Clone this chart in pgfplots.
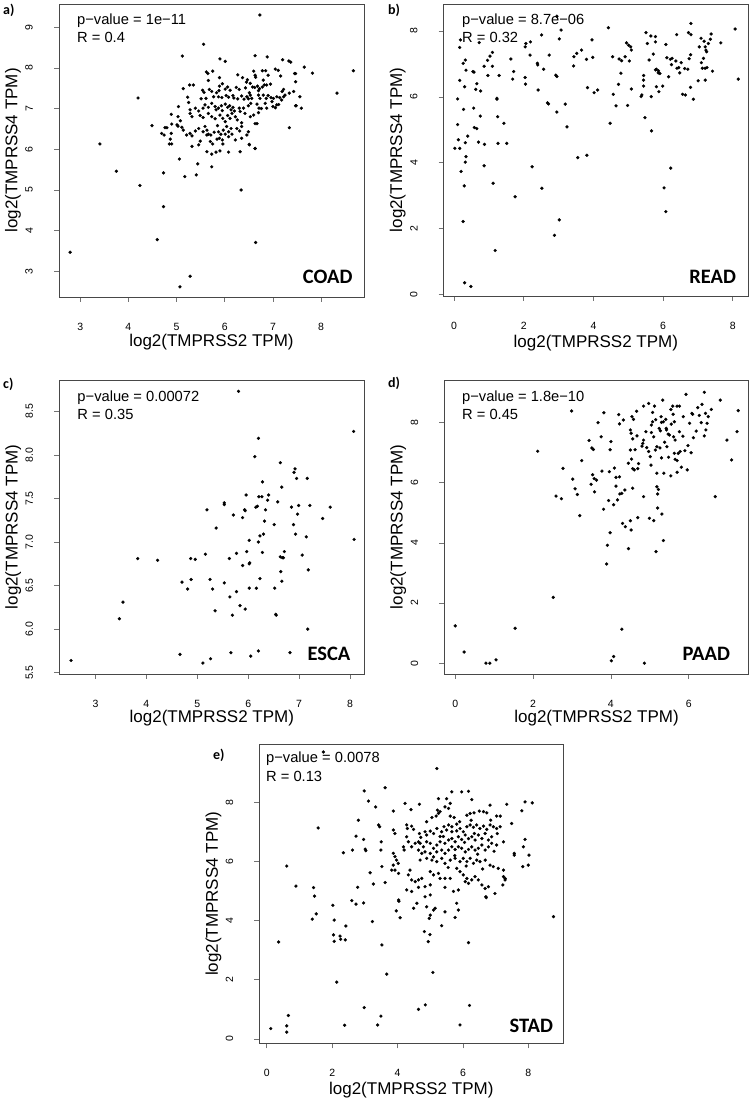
\documentclass[border=0pt]{standalone}
\usepackage{pgfplots}
\pgfplotsset{compat=1.18}
\usepackage{fontspec}
\setmainfont{Liberation Sans}
\newfontfamily\calibri{Carlito}
\pgfplotsset{
  rpanel/.style={
    scale only axis,
    axis line style={draw=black!72, line width=0.8pt},
    tick style={draw=black!55, line width=0.7pt},
    tick align=outside,
    major tick length=5pt,
    xtick pos=left, ytick pos=left,
    /pgf/number format/assume math mode=true,
    xticklabel style={font=\fontsize{10.5}{12}\selectfont, anchor=north, inner sep=0pt, yshift=-21pt},
    yticklabel style={font=\fontsize{10.5}{12}\selectfont, rotate=90, anchor=south, inner sep=0pt},
    yticklabel shift=21pt,
    xlabel={log2(TMPRSS2 TPM)},
    ylabel={log2(TMPRSS4 TPM)},
    label style={font=\fontsize{17}{20}\selectfont},
    ylabel style={at={(axis description cs:-0.151,0.5)}, anchor=center},
  },
  pts/.style={only marks, mark=*, mark size=1.5pt, draw=black, fill=black, mark options={fill=black, draw=black, line width=0.3pt}},
}
\tikzset{
  ann/.style={anchor=west, inner sep=0pt, font=\fontsize{14.7}{16}\selectfont},
  tis/.style={anchor=east, inner sep=0pt, font=\calibri\bfseries\fontsize{20.5}{22}\selectfont},
  plab/.style={anchor=west, inner sep=0pt, font=\calibri\bfseries\fontsize{14}{16}\selectfont},
}
\begin{document}
\begin{tikzpicture}
\useasboundingbox (0,0) rectangle (752pt,1102pt);
% ---------------- a) COAD
\begin{axis}[rpanel, at={(59pt,805pt)}, anchor=south west, width=305pt, height=293pt,
  xmin=2.56, xmax=8.89, ymin=2.37, ymax=9.57, xtick={3,...,8}, ytick={3,...,9},
  xlabel style={at={(axis description cs:0.5,0)}, anchor=center, yshift=-45pt}]
\addplot[pts] coordinates {
(6.73,9.30) (5.17,5.33) (5.41,5.37) (4.20,7.26) (3.41,6.13) (3.75,5.46) (4.24,5.11) (4.73,5.42) (4.73,4.59) (4.60,3.78) (6.34,5.00) (6.64,3.71) (2.79,3.47) (5.28,2.88) (5.07,2.62) (8.67,7.93)
(5.56,8.58) (5.12,8.29) (5.90,8.22) (6.01,8.16) (6.63,8.30) (6.88,8.27) (7.20,8.20) (7.33,8.17) (7.37,8.14) (7.65,8.02) (7.82,7.87) (8.33,7.38)
(5.65,7.86) (5.75,7.92) (5.89,7.76) (5.66,7.69) (6.27,7.83) (6.37,7.76) (6.47,7.71) (6.60,7.92) (6.63,7.82) (6.64,7.77) (6.78,7.93) (6.85,7.93) (6.90,7.82) (7.05,7.97) (7.11,7.94) (7.16,7.80) (7.47,7.86) (7.47,7.66)
(6.80,7.70) (6.87,7.58) (6.82,7.58) (6.78,7.53) (6.53,7.62) (6.58,7.53) (6.62,7.52) (6.68,7.55) (6.72,7.49) (6.70,7.44)
(5.14,7.49) (5.27,7.58) (5.35,7.58) (5.54,7.45) (5.57,7.40) (5.68,7.47) (5.73,7.42) (5.83,7.39) (5.88,7.44) (5.89,7.55) (5.95,7.61) (6.01,7.48) (6.06,7.53) (6.11,7.45) (6.24,7.52) (6.30,7.47) (6.43,7.51) (6.51,7.39)
(5.23,7.28) (5.51,7.24) (5.61,7.25) (5.77,7.29) (5.87,7.29) (5.94,7.27) (6.03,7.32) (6.08,7.28) (6.17,7.32) (6.19,7.26) (6.27,7.24) (6.35,7.31) (6.40,7.23)
(6.46,7.29) (6.49,7.24) (6.53,7.33) (6.56,7.25) (6.54,7.13) (6.49,7.07) (6.70,7.33) (6.73,7.25) (6.80,7.33) (6.86,7.25) (6.90,7.32) (6.96,7.27)
(7.01,7.25) (7.08,7.29) (7.14,7.27) (7.18,7.21) (7.22,7.29) (7.19,7.42) (7.22,7.47) (7.34,7.38) (7.43,7.42) (7.47,7.07) (7.56,7.29) (7.59,7.01)
(6.98,7.17) (7.05,7.02) (7.08,7.09) (7.00,7.05) (6.67,7.11) (6.71,7.01) (6.84,7.13) (6.76,7.00) (6.87,7.01)
(5.04,7.05) (5.28,6.97) (5.39,7.01) (5.46,6.94) (5.55,7.01) (5.59,7.09) (5.66,7.03) (5.73,7.13) (5.80,7.05) (5.82,6.97) (5.87,7.01) (5.93,7.07) (5.95,6.95)
(6.01,7.11) (6.06,7.03) (6.10,7.07) (6.13,6.97) (6.17,7.03) (6.20,6.94) (6.30,7.01) (6.39,7.01) (6.32,6.93)
(4.89,6.86) (5.03,6.80) (5.08,6.70) (5.28,6.88) (5.32,6.80) (5.49,6.83) (5.55,6.78) (5.66,6.88) (5.73,6.80) (5.80,6.75) (5.90,6.84) (5.96,6.76) (6.01,6.68)
(6.06,6.83) (6.11,6.76) (6.15,6.88) (6.22,6.80) (6.26,6.72) (6.42,6.88) (6.53,6.80) (6.60,6.84) (6.67,6.63) (6.63,6.63)
(4.80,6.53) (4.90,6.62) (5.01,6.60) (5.11,6.54) (5.14,6.47) (5.28,6.39) (5.39,6.45) (5.46,6.51) (5.59,6.56)
(5.55,6.43) (5.63,6.47) (5.71,6.35) (5.78,6.42) (5.87,6.43) (5.92,6.37) (5.97,6.47) (6.04,6.56) (6.08,6.43) (6.13,6.51) (6.25,6.51) (6.31,6.45) (6.35,6.56)
(5.89,6.27) (5.95,6.23) (6.01,6.37) (6.08,6.31) (6.15,6.37) (6.22,6.23) (6.49,6.43) (6.46,6.35)
(4.49,6.58) (4.69,6.39) (4.74,6.35) (4.89,6.39) (4.87,6.25) (4.90,6.13) (4.85,6.13) (4.76,6.53) (5.03,6.57) (5.21,6.35) (5.32,6.33)
(5.49,6.20) (5.63,6.35) (5.66,6.37) (5.70,6.19) (5.75,6.13) (5.84,6.25) (5.96,6.13) (6.35,6.27) (6.51,6.12) (6.63,6.02)
(5.32,6.07) (5.46,6.11) (5.63,5.94) (5.73,5.88) (5.82,5.93) (5.90,5.96) (6.08,5.93) (6.32,5.94)
(5.06,5.76) (5.44,5.64) (5.73,5.57) (7.34,6.53) (7.48,7.07) (7.45,7.86) (6.51,6.11) (6.63,6.02)
(5.62,7.90) (6.45,7.65) (6.95,7.60) (7.25,7.33) (6.35,6.65) (5.25,7.15) (5.85,6.58) (6.70,6.90) (7.12,7.10)
};
\node[ann] at (rel axis cs:0.059,0.943) {p−value = 1e−11};
\node[ann] at (rel axis cs:0.059,0.885) {R = 0.4};
\node[tis] at (rel axis cs:0.963,0.069) {COAD};
\end{axis}
% ---------------- b) READ
\begin{axis}[rpanel, at={(443.7pt,806pt)}, anchor=south west, width=304.3pt, height=292pt,
  xmin=-0.30, xmax=8.44, ymin=-0.04, ymax=8.82, xtick={0,2,4,6,8}, ytick={0,2,4,6,8},
  xlabel style={at={(axis description cs:0.5,0)}, anchor=center, yshift=-47pt}]
\addplot[pts] coordinates {
(0.02,4.44) (0.16,4.44) (0.10,5.94) (0.10,5.16) (0.12,4.70) (0.16,7.50) (0.18,7.73) (0.16,6.50) (0.20,3.74) (0.26,7.02) (0.32,7.12) (0.27,5.62) (0.30,6.31) (0.32,4.61) (0.34,4.19) (0.32,4.02) (0.29,3.30) (0.26,2.22) (0.30,0.36) (0.48,0.25)
(0.34,6.81) (0.39,4.81) (0.54,6.77) (0.57,6.75) (0.56,5.66) (0.58,5.07) (0.65,5.04) (0.62,6.23) (0.65,6.40) (0.70,4.63) (0.75,5.42) (0.72,7.65) (0.76,6.18) (0.86,6.93) (0.87,4.56) (0.86,3.91)
(0.96,7.11) (0.97,6.65) (1.03,7.24) (1.10,7.35) (1.10,6.93) (1.12,3.38) (1.18,1.34) (1.23,5.96) (1.23,5.93) (1.25,5.40) (1.26,4.59) (1.29,6.65) (1.43,5.20) (1.51,4.59) (1.63,7.15) (1.68,6.54) (1.71,6.77) (1.75,2.97)
(2.04,7.52) (2.06,7.62) (2.04,6.59) (2.05,6.39) (2.19,7.67) (2.18,7.27) (2.24,3.88) (2.39,7.02) (2.40,6.97) (2.41,6.21) (2.51,7.88) (2.52,3.23) (2.57,6.84) (2.68,5.82) (2.71,5.79) (2.73,7.27) (2.88,1.80)
(2.92,6.66) (2.95,6.62) (2.95,5.54) (2.95,8.45) (3.02,7.76) (3.02,2.27) (3.07,8.03) (3.19,5.78) (3.24,5.09) (3.43,6.94) (3.44,7.22) (3.52,7.32) (3.55,4.16) (3.66,7.42) (3.80,7.14) (3.83,6.28) (3.81,4.23)
(3.96,7.73) (3.98,7.20) (4.02,6.13) (4.12,6.21) (4.43,8.10) (4.48,5.20) (4.55,7.22) (4.57,6.08) (4.65,5.73) (4.72,6.38) (4.74,7.15) (4.81,7.10) (4.79,6.72) (4.91,7.22) (4.95,7.64) (4.98,5.74)
(5.01,7.57) (5.07,7.52) (5.03,7.09) (5.09,7.42) (5.09,6.24) (5.37,6.01) (5.39,6.06) (5.44,6.65) (5.44,6.51) (5.44,6.33) (5.48,5.37) (5.51,7.95) (5.55,7.62) (5.60,7.12) (5.65,7.85) (5.78,7.83)
(5.66,6.01) (5.67,4.97) (5.72,7.30) (5.78,7.67) (5.78,6.82) (5.81,6.84) (5.87,6.79) (5.81,6.31) (5.86,6.73) (5.91,6.71) (5.88,6.16) (5.99,6.33) (6.03,3.24) (6.08,2.52) (6.08,7.59) (6.11,7.19)
(6.16,6.61) (6.21,7.14) (6.26,7.17) (6.24,6.98) (6.22,3.84) (6.39,7.89) (6.37,7.09) (6.40,6.87) (6.45,6.89) (6.48,6.73) (6.52,7.04) (6.56,6.08) (6.64,6.06) (6.62,6.86) (6.71,6.84)
(6.73,7.95) (6.80,7.89) (6.75,7.16) (6.79,7.28) (6.79,6.29) (6.80,8.23) (6.87,5.93) (7.01,6.49) (7.04,7.52) (7.09,7.78) (7.10,7.04) (7.13,6.87) (7.16,7.17) (7.18,7.69)
(7.21,7.52) (7.23,7.42) (7.25,7.37) (7.21,6.87) (7.26,6.89) (7.21,6.51) (7.30,7.62) (7.36,7.75) (7.38,7.91) (7.42,6.78) (7.66,7.64) (8.07,8.06) (8.16,6.54)
};
\node[ann] at (rel axis cs:0.060,0.943) {p−value = 8.7e−06};
\node[ann] at (rel axis cs:0.060,0.885) {R = 0.32};
\node[tis] at (rel axis cs:0.961,0.066) {READ};
\end{axis}
% ---------------- c) ESCA
\begin{axis}[rpanel, at={(59.3pt,428pt)}, anchor=south west, width=305pt, height=294pt,
  xmin=2.29, xmax=8.28, ymin=5.485, ymax=8.86, xtick={3,...,8}, ytick={5.5,6.0,...,8.5},
  yticklabel style={/pgf/number format/.cd, fixed, fixed zerofill, precision=1},
  xlabel style={at={(axis description cs:0.5,0)}, anchor=center, yshift=-44.3pt}]
\addplot[pts] coordinates {
(2.52,5.64) (3.47,6.12) (3.54,6.31) (3.83,6.81) (4.22,6.79) (4.66,5.71) (4.70,6.54) (4.81,6.46) (4.87,6.81) (4.88,6.57) (4.96,6.80) (5.11,5.61) (5.16,6.86) (5.19,7.37)
(5.25,6.57) (5.26,5.66) (5.30,6.46) (5.35,6.21) (5.37,7.16) (5.53,7.45) (5.53,7.43) (5.53,6.53) (5.63,6.81) (5.64,6.37) (5.66,5.73) (5.69,6.16) (5.71,7.31) (5.77,6.87) (5.77,6.43)
(5.81,8.73) (5.84,6.27) (5.89,6.73) (5.89,7.28) (5.93,7.37) (5.94,7.36) (5.94,6.23) (5.96,7.54) (5.97,6.89) (6.02,6.75) (6.03,6.76) (6.02,6.47) (6.02,7.02) (6.05,5.69)
(6.13,7.98) (6.15,7.40) (6.18,7.41) (6.16,6.47) (6.20,8.19) (6.20,7.00) (6.20,5.75) (6.21,7.52) (6.27,7.52) (6.23,7.07) (6.23,6.58) (6.28,7.69) (6.28,6.88) (6.30,7.09) (6.32,7.24) (6.34,7.37)
(6.38,7.48) (6.40,7.54) (6.52,6.47) (6.51,7.20) (6.54,6.17) (6.55,6.16) (6.58,7.46) (6.63,7.91) (6.63,6.83) (6.64,6.66) (6.66,7.63) (6.66,6.55) (6.67,6.82) (6.69,6.82) (6.71,6.89)
(6.82,5.73) (6.85,7.40) (6.89,7.20) (6.90,7.80) (6.92,7.84) (6.93,7.09) (6.95,7.73) (6.97,7.32) (6.99,7.42) (7.06,6.85) (7.14,7.06) (7.16,7.73) (7.17,6.00) (7.18,6.68) (7.21,7.42)
(7.46,7.27) (7.61,7.40) (8.07,8.27) (8.08,7.03)
};
\node[ann] at (rel axis cs:0.059,0.941) {p−value = 0.00072};
\node[ann] at (rel axis cs:0.059,0.883) {R = 0.35};
\node[tis] at (rel axis cs:0.955,0.070) {ESCA};
\end{axis}
% ---------------- d) PAAD
\begin{axis}[rpanel, at={(444.3pt,428pt)}, anchor=south west, width=304.4pt, height=294pt,
  xmin=-0.28, xmax=7.54, ymin=-0.36, ymax=9.42, xtick={0,2,4,6}, ytick={0,2,4,6,8},
  xlabel style={at={(axis description cs:0.5,0)}, anchor=center, yshift=-44pt}]
\addplot[pts] coordinates {
(0.00,1.24) (0.23,0.37) (0.79,0.00) (0.89,0.00) (1.05,0.11) (1.54,1.16) (2.12,7.05) (2.52,2.19) (2.59,5.56) (2.73,5.47) (2.77,6.48) (2.99,8.39) (3.02,6.12) (3.08,5.80) (3.14,5.61) (3.20,4.91) (3.25,6.74)
(3.44,7.41) (3.49,5.95) (3.51,7.16) (3.55,7.11) (3.53,6.27) (3.57,6.14) (3.63,6.09) (3.58,5.70) (3.67,8.00) (3.75,7.53) (3.77,6.39) (3.81,5.12) (3.82,8.33) (3.91,3.92) (3.89,3.30) (3.94,5.41)
(3.96,6.37) (3.98,7.10) (4.00,7.37) (3.98,4.34) (4.01,0.08) (4.07,0.22) (4.07,5.27) (4.09,6.49) (4.13,5.89) (4.13,6.18) (4.22,6.20) (4.20,8.27) (4.22,7.96) (4.17,5.43) (4.23,5.63) (4.28,5.65)
(4.28,1.13) (4.32,8.09) (4.30,4.65) (4.37,4.54) (4.36,5.76) (4.45,3.81) (4.45,6.65) (4.50,4.74) (4.52,4.43) (4.50,7.76) (4.52,7.65) (4.50,7.09) (4.54,8.20) (4.58,8.11) (4.56,7.46) (4.56,6.47) (4.60,6.43)
(4.56,5.82) (4.53,6.79) (4.66,8.38) (4.67,7.56) (4.69,6.47) (4.71,6.64) (4.69,4.84) (4.80,7.22) (4.84,8.55) (4.84,7.42) (4.84,5.54) (4.86,0.00) (4.92,7.17) (4.97,7.04) (4.97,8.64) (4.99,4.82)
(5.04,7.92) (5.07,8.03) (5.07,8.34) (5.04,7.67) (5.10,7.53) (5.01,6.87) (5.10,4.74) (5.12,8.55) (5.14,7.09) (5.18,7.20) (5.16,3.71) (5.18,6.32) (5.18,5.87) (5.22,5.78) (5.20,5.63) (5.20,5.16)
(5.24,7.81) (5.27,7.73) (5.26,7.16) (5.29,8.20) (5.30,8.01) (5.35,8.03) (5.30,6.83) (5.31,4.96) (5.36,6.32) (5.33,8.75) (5.35,4.08) (5.41,8.11) (5.42,7.81) (5.43,7.76) (5.47,7.62) (5.50,7.59)
(5.44,7.20) (5.48,6.85) (5.54,6.23) (5.54,8.44) (5.59,8.55) (5.70,8.55) (5.76,8.55) (5.60,8.28) (5.63,8.03) (5.61,7.53) (5.65,7.42) (5.63,6.98) (5.65,6.78) (5.70,6.74) (5.70,6.35) (5.73,6.98)
(5.76,7.70) (5.78,7.04) (5.81,6.52) (5.86,8.20) (5.90,7.07) (5.93,8.94) (5.96,6.43) (5.98,7.24) (6.02,7.98) (6.06,7.00) (6.08,8.31) (6.10,8.28) (6.12,7.50) (6.19,7.72) (6.23,8.50)
(6.27,8.24) (6.32,8.00) (6.34,8.61) (6.40,9.01) (6.40,7.56) (6.43,8.31) (6.44,7.76) (6.47,7.98) (6.50,8.20) (6.58,8.44) (6.68,5.54) (6.81,8.75) (6.98,7.42) (7.10,6.76) (7.24,7.70) (7.27,8.40)
(5.03,6.59) (4.82,7.31) (5.55,7.95) (5.15,8.10) (4.90,7.70) (5.38,7.35) (5.85,7.55) (4.62,7.10)
};
\node[ann] at (rel axis cs:0.058,0.941) {p−value = 1.8e−10};
\node[ann] at (rel axis cs:0.058,0.883) {R = 0.45};
\node[tis] at (rel axis cs:0.939,0.070) {PAAD};
\end{axis}
% ---------------- e) STAD
\begin{axis}[rpanel, at={(259.3pt,58.7pt)}, anchor=south west, width=304pt, height=299pt,
  xmin=-0.23, xmax=9.07, ymin=-0.15, ymax=9.97, xtick={0,2,4,6,8}, ytick={0,2,4,6,8},
  xlabel style={at={(axis description cs:0.5,0)}, anchor=center, yshift=-46.7pt}]
\addplot[pts] coordinates {
(0.12,0.35) (0.36,3.28) (0.61,0.44) (0.61,0.23) (0.66,0.79) (0.61,5.85) (0.89,5.17) (1.39,4.05) (1.43,5.12) (1.46,4.83) (1.51,4.23) (1.57,7.14) (1.73,9.71) (2.14,1.92) (2.38,0.46) (2.98,8.39) (2.98,1.06)
(3.39,0.47) (3.49,0.77) (3.62,8.50) (3.67,2.19) (4.64,1.00) (4.85,1.15) (5.20,9.15) (5.08,2.25) (5.25,8.13) (5.50,8.13) (5.66,8.36) (5.91,0.47) (5.96,8.36) (6.17,8.38) (6.20,1.13) (6.27,8.10) (8.77,4.14)
(3.11,8.05) (3.33,7.85) (3.87,7.71) (4.23,7.97) (4.41,7.76) (4.67,7.94) (5.18,7.54) (5.25,7.63) (5.30,7.69) (5.22,7.74) (5.45,7.85) (5.56,7.80) (5.61,7.97) (4.89,7.35) (5.05,7.49) (5.61,7.54) (5.73,7.49)
(5.56,7.24) (5.66,7.18) (5.81,7.27) (6.12,7.57) (6.22,7.63) (6.34,7.65) (6.50,7.71) (6.63,7.69) (6.73,7.65) (7.03,7.54) (7.14,7.54) (6.83,7.91) (7.34,7.94) (7.80,7.72) (7.90,8.02) (8.12,7.99)
(7.49,7.29) (7.85,6.50) (7.90,6.75) (8.02,6.22) (8.00,5.88) (7.83,5.83) (7.57,6.28) (7.57,6.22)
(2.80,7.40) (3.42,7.24) (3.45,7.18) (2.73,6.86) (2.96,6.75) (3.01,6.42) (3.03,6.37) (2.34,6.30) (2.62,6.39) (3.50,6.67) (3.49,6.39) (3.87,7.07) (3.92,6.95)
(3.87,6.28) (3.92,6.17) (3.97,6.05) (4.02,5.94) (4.18,6.50) (4.20,6.39) (4.28,7.24) (4.30,7.12) (4.43,7.20) (4.49,7.09) (4.28,6.84) (4.33,6.67) (4.43,6.50) (4.54,6.62) (4.64,6.67) (4.67,6.95) (4.71,6.82)
(4.84,7.01) (4.89,6.90) (5.00,7.03) (5.10,6.95) (5.20,7.12) (5.35,7.01) (5.42,7.18) (5.50,7.07) (5.66,7.01) (5.81,7.04) (5.91,7.12) (6.01,7.01)
(6.12,7.18) (6.22,7.24) (6.32,7.16) (6.42,7.24) (6.52,7.12) (6.63,7.20) (6.73,7.09) (6.83,7.24) (6.93,7.18) (7.03,7.12) (7.14,7.18)
(4.69,6.62) (4.79,6.50) (4.89,6.67) (5.00,6.62) (5.10,6.45) (5.20,6.56) (5.30,6.67) (5.45,6.62) (5.56,6.73) (5.66,6.78) (5.76,6.67)
(5.86,6.84) (5.96,6.75) (6.07,6.90) (6.17,6.78) (6.27,6.84) (6.37,6.73) (6.47,6.90) (6.58,6.78) (6.68,6.95) (6.78,6.73) (6.88,6.84)
(4.64,6.39) (4.74,6.28) (4.84,6.33) (5.00,6.28) (5.10,6.16) (5.20,6.33) (5.35,6.39) (5.45,6.28) (5.56,6.39) (5.66,6.50) (5.76,6.41) (5.86,6.50)
(5.96,6.45) (6.07,6.33) (6.17,6.41) (6.27,6.50) (6.37,6.39) (6.47,6.45) (6.58,6.56) (6.68,6.39) (6.78,6.50) (6.88,6.62) (7.03,6.56) (7.24,6.67)
(4.69,6.05) (4.89,6.11) (5.05,6.05) (5.20,6.00) (5.35,6.11) (5.45,5.94) (5.61,6.05) (5.76,6.11) (5.91,6.00) (6.01,6.11) (6.12,6.00) (6.22,6.11) (6.32,5.94) (6.42,6.05) (6.52,6.00) (6.68,6.05)
(6.83,5.88) (6.93,5.83) (7.08,5.77) (7.24,5.71) (7.24,5.49) (7.29,5.38)
(3.87,5.88) (3.92,5.71) (4.03,5.60) (4.38,5.71) (4.33,5.55) (4.43,5.38) (4.54,5.32) (4.64,5.38) (4.74,5.43)
(5.00,5.66) (5.10,5.55) (5.25,5.60) (5.30,5.43) (5.45,5.43) (5.61,5.43)
(5.81,5.77) (5.91,5.66) (6.01,5.55) (6.12,5.43) (6.07,5.32) (6.17,5.26) (6.27,5.38) (6.37,5.49) (6.47,5.38) (6.58,5.21) (6.68,5.09) (6.78,5.15)
(4.28,5.04) (4.43,4.99) (4.64,5.13) (4.84,5.15) (5.00,5.21) (5.45,5.13) (5.71,4.99) (5.86,5.04)
(3.16,5.62) (3.26,5.24) (3.62,5.29) (3.52,5.83) (3.82,5.71)
(4.03,4.70) (4.49,4.42) (4.59,4.59) (4.84,4.81) (5.00,4.87) (4.89,4.47) (5.10,4.36) (5.15,4.42) (5.00,4.19) (4.97,4.08)
(5.45,4.30) (5.81,4.59) (5.86,4.36) (5.76,4.11) (6.71,4.78) (2.02,4.52) (2.60,4.68) (2.73,4.56) (2.96,4.60) (2.78,5.13)
(2.06,4.02) (2.42,3.82) (3.23,3.97) (2.04,3.52) (2.24,3.48) (2.26,3.37) (2.40,3.35) (2.06,3.30) (3.52,3.18) (5.35,3.83) (4.82,3.63) (4.99,3.53) (4.94,3.29) (6.17,3.26)
(6.98,4.92) (7.22,5.21) (7.29,5.43) (6.70,4.81) (3.96,4.33) (4.04,4.66) (4.08,4.10)
(5.40,6.85) (6.05,6.65) (6.35,6.95) (5.75,6.20) (6.45,6.25) (6.95,6.35) (5.30,6.85) (6.60,5.75) (6.10,5.85) (5.55,5.80) (7.05,6.95) (6.25,7.40) (5.90,7.35) (6.85,7.40)
};
\node[ann] at (rel axis cs:0.022,0.952) {p−value = 0.0078};
\node[ann] at (rel axis cs:0.022,0.894) {R = 0.13};
\node[tis] at (rel axis cs:0.967,0.058) {STAD};
\end{axis}
% panel letters
\node[plab] at (3pt,1092pt) {a)};
\node[plab] at (388pt,1092pt) {b)};
\node[plab] at (3pt,718pt) {c)};
\node[plab] at (388pt,719pt) {d)};
\node[plab] at (213pt,347pt) {e)};
\end{tikzpicture}
\end{document}
